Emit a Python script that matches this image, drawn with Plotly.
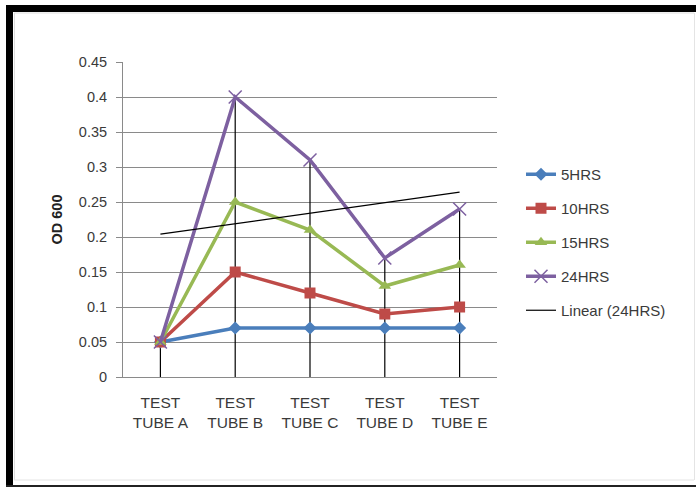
import numpy as np
import plotly.graph_objects as go

# Optical density readings per test tube at each incubation time
tubes = ["TEST<br>TUBE A", "TEST<br>TUBE B", "TEST<br>TUBE C", "TEST<br>TUBE D", "TEST<br>TUBE E"]
od_5hrs = [0.05, 0.07, 0.07, 0.07, 0.07]
od_10hrs = [0.05, 0.15, 0.12, 0.09, 0.10]
od_15hrs = [0.05, 0.25, 0.21, 0.13, 0.16]
od_24hrs = [0.05, 0.40, 0.31, 0.17, 0.24]
series_names = ["5HRS", "10HRS", "15HRS", "24HRS"]
y_ticks = [0, 0.05, 0.1, 0.15, 0.2, 0.25, 0.3, 0.35, 0.4, 0.45]

W, H = 696, 487
ML, MR, MT, MB = 123, 199, 62, 110
PW, PH = W - ML - MR, H - MT - MB

FONT = "Liberation Sans, Arial, sans-serif"
TXT = "#3a3a3a"
GRID = "#8a8a8a"

xpos = list(range(len(tubes)))
series = [od_5hrs, od_10hrs, od_15hrs, od_24hrs]
colors = ["#4A7EBB", "#BE4B48", "#98B954", "#7D60A0"]
symbols = ["diamond", "square", "triangle-up", "x-thin"]
sizes = [10, 11, 11, 13]

fig = go.Figure()

# Drop lines from the highest reading of each tube down to the axis
top = np.max(np.array(series), axis=0)
dx, dy = [], []
for xi, t in zip(xpos, top):
    dx += [xi, xi, None]
    dy += [0, float(t), None]
fig.add_trace(go.Scatter(x=dx, y=dy, mode="lines", line=dict(color="black", width=1.2),
                         showlegend=False, hoverinfo="skip"))

for name, vals, col, sym, sz in zip(series_names, series, colors, symbols, sizes):
    marker = dict(symbol=sym, size=sz, color=col)
    if sym == "x-thin":
        marker["line"] = dict(color=col, width=1.5)
    fig.add_trace(go.Scatter(x=xpos, y=vals, mode="lines+markers", name=name,
                             line=dict(color=col, width=3.5), marker=marker,
                             legendgroup=name))

# Least-squares trend of the 24 hour series
slope, intercept = np.polyfit(xpos, od_24hrs, 1)
trend = [intercept + slope * xi for xi in xpos]
fig.add_trace(go.Scatter(x=xpos, y=trend, mode="lines", name="Linear (24HRS)",
                         line=dict(color="black", width=1.2), legendgroup="trend"))


def px_x(p):
    return (p - ML) / PW


def px_y(p):
    return (H - MB - p) / PH


# Frame around the chart
shapes = [
    dict(type="rect", xref="paper", yref="paper", x0=px_x(6), x1=px_x(13), y0=px_y(487), y1=px_y(5),
         fillcolor="black", line=dict(width=0), layer="above"),
    dict(type="rect", xref="paper", yref="paper", x0=px_x(6), x1=px_x(700), y0=px_y(12), y1=px_y(5),
         fillcolor="black", line=dict(width=0), layer="above"),
    dict(type="rect", xref="paper", yref="paper", x0=px_x(6), x1=px_x(700), y0=px_y(487), y1=px_y(485),
         fillcolor="#222222", line=dict(width=0), layer="above"),
    dict(type="line", xref="paper", yref="paper", x0=px_x(14.5), x1=px_x(14.5), y0=px_y(480), y1=px_y(13),
         line=dict(color="#dddddd", width=1)),
    dict(type="line", xref="paper", yref="paper", x0=px_x(14), x1=px_x(694), y0=px_y(13), y1=px_y(13),
         line=dict(color="#dddddd", width=1)),
    dict(type="line", xref="paper", yref="paper", x0=px_x(14), x1=px_x(694), y0=px_y(480), y1=px_y(480),
         line=dict(color="#e4e4e4", width=1)),
    dict(type="line", xref="paper", yref="paper", x0=px_x(694.5), x1=px_x(694.5), y0=px_y(480), y1=px_y(13),
         line=dict(color="#e4e4e4", width=1)),
]

fig.update_layout(
    width=W, height=H,
    margin=dict(l=ML, r=MR, t=MT, b=MB, autoexpand=False),
    paper_bgcolor="white", plot_bgcolor="white",
    font=dict(family=FONT, size=15, color=TXT),
    shapes=shapes,
    showlegend=True,
    legend=dict(x=px_x(521), y=px_y(158), xanchor="left", yanchor="top",
                font=dict(family=FONT, size=15, color=TXT),
                tracegroupgap=11.5, bgcolor="rgba(0,0,0,0)"),
    xaxis=dict(range=[-0.5, 4.5], tickmode="array", tickvals=xpos, ticktext=tubes,
               showgrid=False, zeroline=False, showline=True, linecolor=GRID, linewidth=1,
               ticks="", ticklabelstandoff=11, tickfont=dict(size=15.5, color=TXT), fixedrange=True),
    yaxis=dict(range=[0, 0.45], tickmode="array", tickvals=y_ticks,
               ticktext=[f"{v:g}" for v in y_ticks],
               showgrid=True, gridcolor=GRID, gridwidth=1, zeroline=False,
               showline=True, linecolor=GRID, linewidth=1,
               ticks="outside", ticklen=6, tickcolor=GRID, ticklabelstandoff=6,
               tickfont=dict(size=14.5, color=TXT),
               title=dict(text="<b>OD 600</b>", font=dict(size=14.5, color="#222222"), standoff=12),
               fixedrange=True),
)

fig.write_html("out.html")
